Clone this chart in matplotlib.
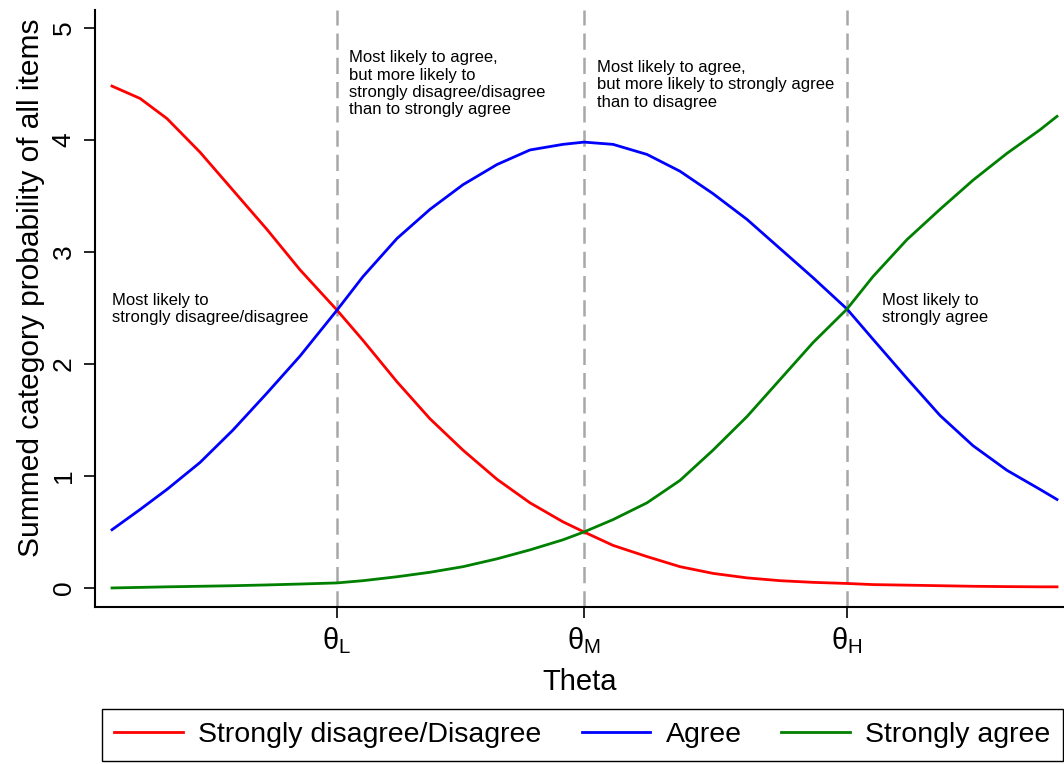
import numpy as np
import matplotlib
matplotlib.use("Agg")
import matplotlib.pyplot as plt

plt.rcParams['font.family'] = ['Liberation Sans', 'DejaVu Sans']

# theta values (theta_M = 0)
theta = [-4.72, -4.44, -4.17, -3.84, -3.51, -3.17, -2.84, -2.47,
         -2.21, -1.87, -1.54, -1.21, -0.87, -0.54, -0.21, 0.0,
         0.29, 0.63, 0.96, 1.29, 1.63, 1.96, 2.29, 2.63,
         2.89, 3.23, 3.56, 3.89, 4.23, 4.56, 4.73]

disagree = [4.48, 4.37, 4.19, 3.89, 3.55, 3.20, 2.84, 2.48,
            2.21, 1.84, 1.51, 1.23, 0.97, 0.76, 0.59, 0.50,
            0.38, 0.28, 0.19, 0.13, 0.09, 0.065, 0.05, 0.04,
            0.03, 0.025, 0.02, 0.015, 0.012, 0.01, 0.01]

agree = [0.52, 0.70, 0.88, 1.12, 1.41, 1.74, 2.07, 2.48,
         2.78, 3.12, 3.38, 3.60, 3.78, 3.91, 3.96, 3.98,
         3.96, 3.87, 3.72, 3.52, 3.29, 3.03, 2.77, 2.49,
         2.22, 1.87, 1.54, 1.27, 1.05, 0.88, 0.79]

strongly_agree = [0.0, 0.005, 0.01, 0.015, 0.02, 0.027, 0.035, 0.045,
                  0.065, 0.10, 0.14, 0.19, 0.26, 0.34, 0.43, 0.50,
                  0.61, 0.76, 0.96, 1.23, 1.53, 1.86, 2.19, 2.49,
                  2.78, 3.11, 3.38, 3.64, 3.88, 4.09, 4.21]

cut_points = [-2.47, 0.0, 2.63]
cut_labels = ['θ$_\\mathregular{L}$', 'θ$_\\mathregular{M}$', 'θ$_\\mathregular{H}$']

notes = [
    (-4.72, 2.49, "Most likely to\nstrongly disagree/disagree"),
    (-2.35, 4.50, "Most likely to agree,\nbut more likely to\nstrongly disagree/disagree\nthan to strongly agree"),
    (0.13, 4.49, "Most likely to agree,\nbut more likely to strongly agree\nthan to disagree"),
    (2.98, 2.49, "Most likely to\nstrongly agree"),
]

fig = plt.figure(figsize=(10.64, 7.64), dpi=100)
ax = fig.add_axes([0.0893, 0.2055, 0.9107, 0.7815])

for c in cut_points:
    ax.axvline(c, color='#a8a8a8', lw=1.8, dashes=(6.5, 3.2), zorder=1)

ax.plot(theta, disagree, color='#ff0000', lw=2.0, label='Strongly disagree/Disagree', zorder=3)
ax.plot(theta, agree, color='#0000ff', lw=2.0, label='Agree', zorder=3)
ax.plot(theta, strongly_agree, color='#008000', lw=2.0, label='Strongly agree', zorder=3)

for x, y, s in notes:
    ax.text(x, y, s, ha='left', va='center', fontsize=12, linespacing=1.2)

ax.set_xlim(-4.89, 4.80)
ax.set_ylim(-0.17, 5.16)
ax.set_yticks([0, 1, 2, 3, 4, 5])
ax.set_xticks(cut_points)
ax.set_xticklabels(cut_labels, fontsize=21)
ax.tick_params(axis='y', labelsize=19, length=8, width=1.2, labelrotation=90, pad=6)
ax.tick_params(axis='x', length=8, width=1.2, pad=5)
for lab in ax.get_yticklabels():
    lab.set_verticalalignment('center')

ax.spines['top'].set_visible(False)
ax.spines['right'].set_visible(False)
ax.spines['left'].set_linewidth(1.5)
ax.spines['bottom'].set_linewidth(1.5)

ax.set_xlabel('Theta', fontsize=21, labelpad=9)
ax.set_ylabel('Summed category probability of all items', fontsize=21.5)
ax.yaxis.set_label_coords(-0.052, 0.535)

leg = fig.legend(loc='center', bbox_to_anchor=(0.5475, 0.038), ncol=3, fontsize=20.5,
                 frameon=True, fancybox=False, edgecolor='black', framealpha=1,
                 handlelength=2.4, handletextpad=0.55, columnspacing=1.4, borderpad=0.45)
leg.get_frame().set_linewidth(1.0)

fig.savefig('out.png', dpi=100)
